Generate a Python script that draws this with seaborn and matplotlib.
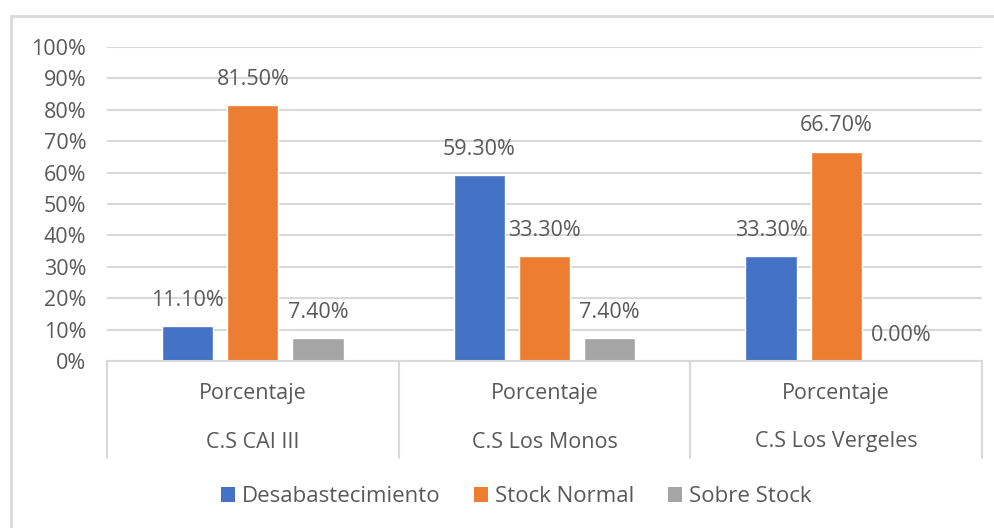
import matplotlib
matplotlib.use("Agg")
import matplotlib.pyplot as plt
import matplotlib.transforms as mtransforms
from matplotlib.patches import Rectangle, Patch
import seaborn as sns
import pandas as pd

groups = ["C.S CAI III", "C.S Los Monos", "C.S Los Vergeles"]
sub_label = "Porcentaje"
series = ["Desabastecimiento", "Stock Normal", "Sobre Stock"]
desabastecimiento = [0.111, 0.593, 0.333]
stock_normal = [0.815, 0.333, 0.667]
sobre_stock = [0.074, 0.074, 0.0]
colors = ["#4472C4", "#ED7D31", "#A5A5A5"]
yticks = [0, 0.1, 0.2, 0.3, 0.4, 0.5, 0.6, 0.7, 0.8, 0.9, 1.0]

rows = []
for name, vals in zip(series, [desabastecimiento, stock_normal, sobre_stock]):
    for g, v in zip(groups, vals):
        rows.append({"grupo": g, "serie": name, "valor": v})
df = pd.DataFrame(rows)

sns.set_style("white")
plt.rcParams["font.family"] = ["Open Sans", "DejaVu Sans"]
txt = "#595959"
grid_c = "#D9D9D9"
fs = 15.5

W, H = 994, 528
fig = plt.figure(figsize=(W / 100, H / 100), dpi=100)
x0, x1, ytop, ybot = 107, 982, 47, 361
ax = fig.add_axes([x0 / W, (H - ybot) / H, (x1 - x0) / W, (ybot - ytop) / H])

sns.barplot(data=df, x="grupo", y="valor", hue="serie", order=groups,
            hue_order=series, palette=colors, width=0.67, gap=0.215,
            saturation=1, ax=ax, legend=False, errorbar=None)

ax.set_ylim(0, 1)
ax.set_xlim(-0.5, 2.5)
ax.set_yticks(yticks)
ax.set_yticklabels([f"{int(round(t*100))}%" for t in yticks], fontsize=fs, color=txt)
ax.tick_params(axis="y", length=0, pad=15)
ax.set_xticks([])
ax.set_xlabel("")
ax.set_ylabel("")
ax.grid(axis="y", color=grid_c, linewidth=1.5)
ax.set_axisbelow(True)
for s in ["top", "right", "left"]:
    ax.spines[s].set_visible(False)
ax.spines["bottom"].set_color(grid_c)
ax.spines["bottom"].set_linewidth(1.5)

# data labels
for cont in ax.containers:
    for bar in cont:
        h = bar.get_height()
        ax.annotate(f"{h*100:.2f}%", (bar.get_x() + bar.get_width() / 2, h),
                    xytext=(0, 18.5), textcoords="offset points",
                    ha="center", va="center", fontsize=fs, color=txt)

# two-level category axis
trans = mtransforms.blended_transform_factory(ax.transData, ax.transAxes)
ysep = (ybot - 458) / (ybot - ytop)
for xs in [-0.5, 0.5, 1.5, 2.5]:
    ax.plot([xs, xs], [0, ysep], transform=trans, color=grid_c, lw=1.5, clip_on=False)
y_sub = (ybot - 394) / (ybot - ytop)
y_grp = (ybot - 442) / (ybot - ytop)
for i, g in enumerate(groups):
    ax.text(i, y_sub, sub_label, transform=trans, ha="center", va="center",
            fontsize=fs, color=txt)
    ax.text(i, y_grp, g, transform=trans, ha="center", va="center",
            fontsize=fs, color=txt)

# legend
handles = [Patch(facecolor=c, edgecolor="none", label=s) for c, s in zip(colors, series)]
fig.legend(handles=handles, loc="center", bbox_to_anchor=(516 / W, (H - 497) / H),
           ncol=3, frameon=False, fontsize=16, handlelength=0.65, handleheight=0.65,
           handletextpad=0.3, columnspacing=1.5, labelcolor=txt)

# chart border
fig.patches.append(Rectangle((11 / W, -0.05), 1.1, (H - 16) / H + 0.05,
                             transform=fig.transFigure, fill=False,
                             edgecolor="#D9D9D9", linewidth=2))

fig.savefig("out.png", dpi=100)
